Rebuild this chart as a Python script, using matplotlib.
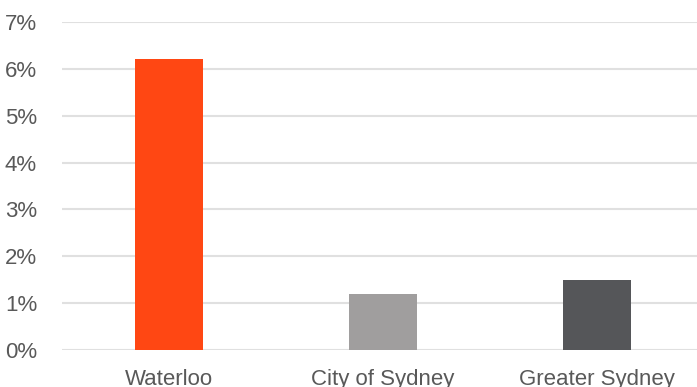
import matplotlib
matplotlib.use("Agg")
import matplotlib.pyplot as plt
from matplotlib.ticker import FuncFormatter

# Werte (Anteil in %)
regions = ["Waterloo", "City of Sydney", "Greater Sydney"]
values = [6.2, 1.2, 1.5]
colors = ["#FF4713", "#A09E9E", "#555659"]

plt.rcParams["font.family"] = ["Liberation Sans", "DejaVu Sans"]

fig = plt.figure(figsize=(6.97, 3.87), dpi=100)
ax = fig.add_axes([62 / 697, 37 / 387, 642 / 697, 328 / 387])

x = range(len(regions))
ax.bar(x, values, width=0.315, color=colors, zorder=3)

ax.set_xlim(-0.5, 2.5)
ax.set_ylim(0, 7)
ax.set_yticks(range(0, 8))
ax.yaxis.set_major_formatter(FuncFormatter(lambda v, p: f"{v:.0f}%"))
ax.set_xticks(list(x))
ax.set_xticklabels(regions)

ax.grid(axis="y", color="#E0E0E0", linewidth=1.5, zorder=0)
for s in ax.spines.values():
    s.set_visible(False)
ax.tick_params(axis="both", length=0, labelsize=16, labelcolor="#595959")
ax.tick_params(axis="y", pad=18)
ax.tick_params(axis="x", pad=14)

plt.savefig("out.png", dpi=100)
